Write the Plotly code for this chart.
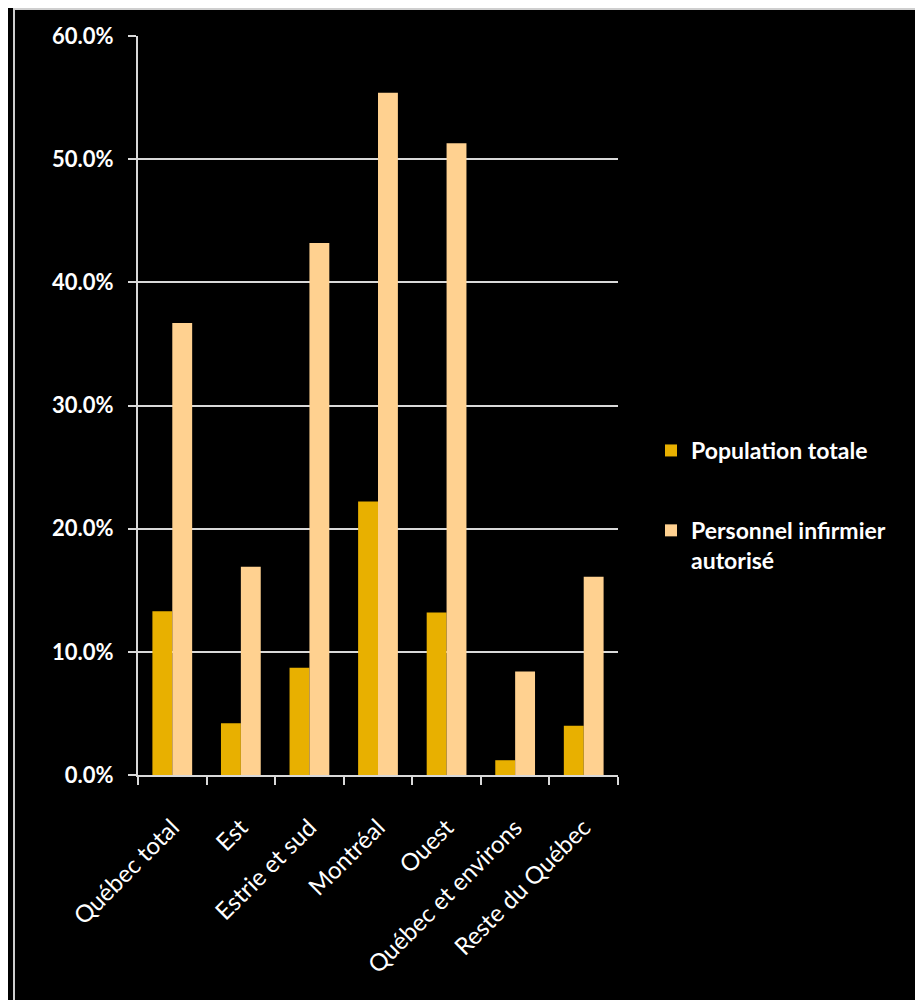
import plotly.graph_objects as go

categories = ["Québec total", "Est", "Estrie et sud", "Montréal", "Ouest",
              "Québec et environs", "Reste du Québec"]
population_totale = [13.3, 4.2, 8.7, 22.2, 13.2, 1.2, 4.0]
personnel_infirmier = [36.7, 16.9, 43.2, 55.4, 51.3, 8.4, 16.1]
y_ticks = [0, 10, 20, 30, 40, 50, 60]
y_tick_labels = ["0.0%", "10.0%", "20.0%", "30.0%", "40.0%", "50.0%", "60.0%"]

W, H = 923, 1000
L, T = 130, 28
pw, ph = 480, 739
R = W - L - pw
B = H - T - ph

fig = go.Figure()
fig.add_trace(go.Bar(x=categories, y=population_totale, name="Population totale",
                     marker=dict(color="#E8B000", line=dict(width=0)),
                     legendgroup="a"))
fig.add_trace(go.Bar(x=categories, y=personnel_infirmier,
                     name="Personnel infirmier<br>autorisé",
                     marker=dict(color="#FFD190", line=dict(width=0)),
                     legendgroup="b"))

def px_x(p):
    return (p - L) / pw

def px_y(p):
    return 1 - (p - T) / ph

fig.update_layout(
    width=W, height=H,
    margin=dict(l=L, r=R, t=T, b=B, autoexpand=False),
    paper_bgcolor="black", plot_bgcolor="black",
    font=dict(family="Lato, Open Sans, sans-serif", color="white"),
    barmode="group", bargap=0.42, bargroupgap=0,
    showlegend=True,
    legend=dict(x=px_x(643), y=px_y(421), xanchor="left", yanchor="top",
                font=dict(size=23, color="white", family="Lato, sans-serif", weight="bold"),
                bgcolor="rgba(0,0,0,0)", traceorder="grouped",
                tracegroupgap=47, valign="top", itemwidth=30),
    xaxis=dict(showgrid=False, showline=True, linecolor="#d9d9d9", linewidth=2,
               ticks="outside", tickson="boundaries", ticklen=8, tickwidth=2,
               tickcolor="#d9d9d9", tickangle=-45,
               tickfont=dict(size=24, color="white"),
               ticklabelstandoff=27),
    yaxis=dict(range=[0, 60], tickvals=y_ticks, ticktext=y_tick_labels,
               showgrid=True, gridcolor="#d9d9d9", gridwidth=2,
               showline=True, linecolor="#d9d9d9", linewidth=2,
               ticks="outside", ticklen=8, tickwidth=2, tickcolor="#d9d9d9",
               tickfont=dict(size=22, color="white", weight="bold"),
               ticklabelstandoff=10, zeroline=False),
    shapes=[dict(type="rect", xref="paper", yref="paper",
                 x0=px_x(6), x1=px_x(913), y0=px_y(1020), y1=px_y(1),
                 line=dict(color="#cfcfcf", width=2), fillcolor="rgba(0,0,0,0)",
                 layer="above")],
)

fig.write_html("out.html")
